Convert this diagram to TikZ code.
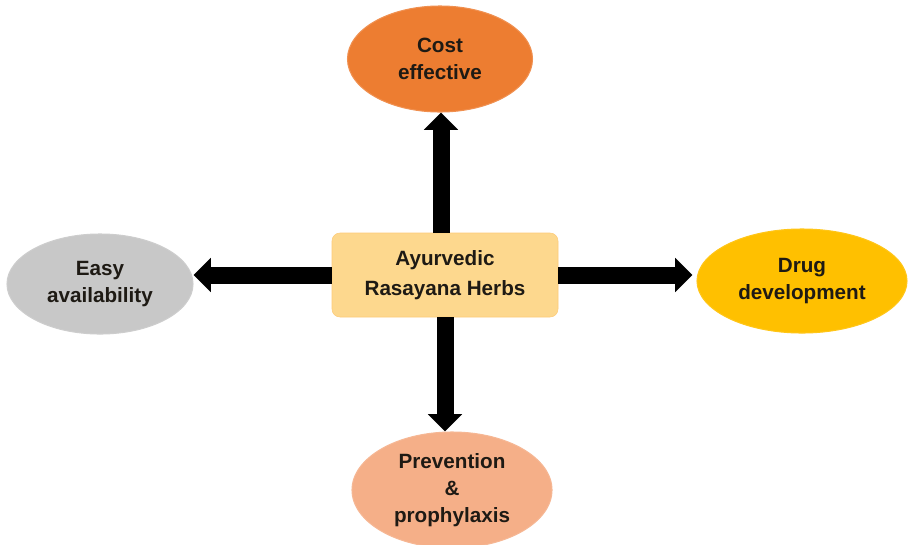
\documentclass[tikz,border=0pt]{standalone}
\usepackage{fontspec}
\setmainfont{Liberation Sans}
\usetikzlibrary{arrows.meta,shapes.geometric}
\definecolor{txt}{HTML}{1E1A14}
\definecolor{cOrange}{HTML}{ED7D31}
\definecolor{cGrey}{HTML}{C8C8C8}
\definecolor{cGold}{HTML}{FFC000}
\definecolor{cSalmon}{HTML}{F5AF88}
\definecolor{cBox}{HTML}{FDD88E}
\begin{document}
\begin{tikzpicture}[x=0.75pt,y=-0.75pt,
  lab/.style={text=txt,font=\fontsize{15.5}{20.5}\selectfont\bfseries,align=center},
  oval/.style={ellipse,lab,inner sep=0pt,line width=0.8pt},
  bigarrow/.style={draw=black,line width=12.75pt,-{Triangle[width=25pt,length=13pt]}}]
\useasboundingbox[fill=white] (0,0) rectangle (908,544);
\node[draw=cBox!85!orange,fill=cBox,rounded corners=6pt,minimum width=169.5pt,minimum height=63pt,inner sep=0pt,lab,font=\fontsize{15.5}{22}\selectfont\bfseries] (box) at (445,275) {Ayurvedic\\Rasayana Herbs};
\node[oval,draw=cOrange!85!white,fill=cOrange,minimum width=138.75pt,minimum height=79.5pt] (top) at (440,59) {Cost\\effective};
\node[oval,draw=cGrey!90!white,fill=cGrey,minimum width=139.5pt,minimum height=75pt] (left) at (100,284) {Easy\\availability};
\node[oval,draw=cGold!90!white,fill=cGold,minimum width=157.5pt,minimum height=78pt] (right) at (802,281) {Drug\\development};
\node[oval,draw=cSalmon!90!white,fill=cSalmon,minimum width=150pt,minimum height=87pt] (bottom) at (452,490) {Prevention\\\&\\prophylaxis};
\draw[bigarrow] ([xshift=-3pt]box.north) -- ([xshift=-3pt]box.north |- top.south);
\draw[bigarrow] (box.south) -- (box.south |- bottom.north);
\draw[bigarrow] (box.west) -- (box.west -| left.east);
\draw[bigarrow] (box.east) -- ([xshift=-3pt]box.east -| right.west);
\end{tikzpicture}
\end{document}
